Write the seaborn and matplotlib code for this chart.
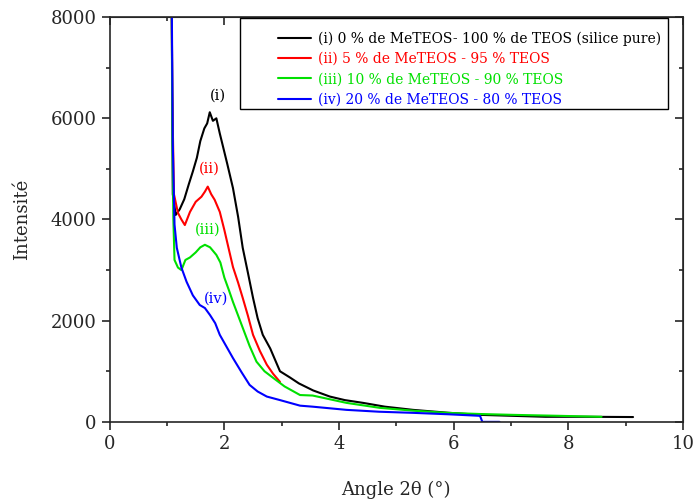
import matplotlib
matplotlib.use("Agg")
import matplotlib.pyplot as plt
import seaborn as sns
import pandas as pd
from matplotlib.ticker import MultipleLocator
from matplotlib.patches import Rectangle

# values
x_i = [1.08, 1.09, 1.10, 1.15, 1.22, 1.30, 1.38, 1.45, 1.52, 1.58, 1.65, 1.70, 1.745, 1.80, 1.86, 1.92, 1.97,
       2.05, 2.15, 2.24, 2.32, 2.41, 2.50, 2.58, 2.67, 2.80, 2.97, 3.14, 3.30, 3.55, 3.84, 4.10, 4.42,
       4.80, 5.29, 5.90, 6.46, 7.00, 7.60, 8.30, 9.13]
y_i = [8600, 6500, 4500, 4090, 4200, 4400, 4700, 4950, 5220, 5550, 5800, 5900, 6120, 5950, 6000, 5700, 5470,
       5100, 4620, 4050, 3440, 2950, 2450, 2050, 1720, 1450, 1000, 880, 760, 620, 500, 430, 375,
       300, 237, 180, 138, 120, 100, 100, 95]

x_ii = [1.08, 1.09, 1.12, 1.19, 1.25, 1.31, 1.40, 1.50, 1.60, 1.66, 1.71, 1.77, 1.83, 1.92, 2.00,
        2.08, 2.15, 2.24, 2.32, 2.41, 2.50, 2.62, 2.74, 2.85, 2.97]
y_ii = [8600, 6500, 4500, 4130, 4000, 3890, 4150, 4350, 4450, 4550, 4650, 4500, 4390, 4150, 3790,
        3400, 3060, 2750, 2450, 2100, 1720, 1400, 1130, 950, 790]

x_iii = [1.08, 1.09, 1.11, 1.13, 1.19, 1.25, 1.32, 1.40, 1.50, 1.58, 1.66, 1.75, 1.86, 1.93, 2.00,
         2.08, 2.15, 2.24, 2.32, 2.44, 2.56, 2.70, 2.85, 3.05, 3.32, 3.54, 4.13, 4.71, 5.30, 5.88,
         6.46, 7.04, 7.80, 8.58]
y_iii = [8600, 6000, 4000, 3200, 3050, 3000, 3200, 3250, 3350, 3450, 3500, 3450, 3300, 3150, 2850,
         2600, 2370, 2100, 1860, 1500, 1190, 1000, 870, 700, 530, 520, 375, 277, 220, 178,
         155, 138, 120, 100]

x_iv = [1.08, 1.10, 1.13, 1.17, 1.25, 1.34, 1.45, 1.57, 1.66, 1.75, 1.84, 1.92, 2.03, 2.15, 2.30,
        2.44, 2.58, 2.74, 2.97, 3.32, 3.54, 4.13, 4.70, 5.29, 5.90, 6.46, 6.50, 6.80]
y_iv = [8600, 5500, 3900, 3440, 3050, 2770, 2500, 2310, 2250, 2110, 1950, 1720, 1500, 1260, 980,
        730, 600, 500, 430, 320, 300, 237, 200, 178, 150, 119, 0, 0]

labels = ["(i) 0 % de MeTEOS- 100 % de TEOS (silice pure)",
          "(ii) 5 % de MeTEOS - 95 % TEOS",
          "(iii) 10 % de MeTEOS - 90 % TEOS",
          "(iv) 20 % de MeTEOS - 80 % TEOS"]
tags = ["(i)", "(ii)", "(iii)", "(iv)"]
tag_pos = [(1.88, 6300), (1.73, 4860), (1.71, 3660), (1.85, 2290)]
colors = ["#000000", "#ff0000", "#00e000", "#0000ff"]

frames = []
for lab, xs, ys in zip(labels, [x_i, x_ii, x_iii, x_iv], [y_i, y_ii, y_iii, y_iv]):
    frames.append(pd.DataFrame({"x": xs, "y": ys, "serie": lab}))
df = pd.concat(frames, ignore_index=True)

sns.set_style("ticks")
plt.rcParams["font.family"] = ["DejaVu Serif"]

fig = plt.figure(figsize=(6.99, 5.04), dpi=100)
ax = fig.add_axes([0.157, 0.163, 0.820, 0.803])

sns.lineplot(data=df, x="x", y="y", hue="serie", palette=colors, sort=False,
             estimator=None, linewidth=1.5, ax=ax)

for t, (tx, ty), c in zip(tags, tag_pos, colors):
    ax.text(tx, ty, t, color=c, fontsize=10.5, ha="center", va="bottom")

ax.set_xlim(0, 10)
ax.set_ylim(0, 8000)
ax.xaxis.set_major_locator(MultipleLocator(2))
ax.xaxis.set_minor_locator(MultipleLocator(1))
ax.yaxis.set_major_locator(MultipleLocator(2000))
ax.yaxis.set_minor_locator(MultipleLocator(1000))
ax.tick_params(which="both", direction="out", labelsize=13, width=1.2)
ax.tick_params(which="major", length=6)
ax.tick_params(which="minor", length=3)
for s in ax.spines.values():
    s.set_linewidth(1.2)

# mirrored inward ticks on top and right
secx = ax.secondary_xaxis("top")
secx.xaxis.set_major_locator(MultipleLocator(2))
secx.xaxis.set_minor_locator(MultipleLocator(1))
secx.tick_params(which="both", direction="in", labeltop=False, width=1.2)
secx.tick_params(which="major", length=6)
secx.tick_params(which="minor", length=3)
secy = ax.secondary_yaxis("right")
secy.yaxis.set_major_locator(MultipleLocator(2000))
secy.yaxis.set_minor_locator(MultipleLocator(1000))
secy.tick_params(which="both", direction="in", labelright=False, width=1.2)
secy.tick_params(which="major", length=6)
secy.tick_params(which="minor", length=3)

ax.set_xlabel("Angle 2θ (°)", fontsize=13, labelpad=20)
ax.set_ylabel("Intensité", fontsize=13, labelpad=14)

# legend box drawn separately, Origin style (wide left margin)
ax.add_patch(Rectangle((0.227, 0.772), 0.747, 0.226, transform=ax.transAxes,
                       fill=True, facecolor="white", edgecolor="black", linewidth=1.0, zorder=4))
leg = ax.legend(loc="upper left", bbox_to_anchor=(0.293, 0.965), fontsize=10,
                frameon=False, borderpad=0, borderaxespad=0,
                handlelength=2.4, handletextpad=0.5, labelspacing=0.45)
leg.set_zorder(5)
for txt, c in zip(leg.get_texts(), colors):
    txt.set_color(c)

fig.savefig("out.png", dpi=100)
